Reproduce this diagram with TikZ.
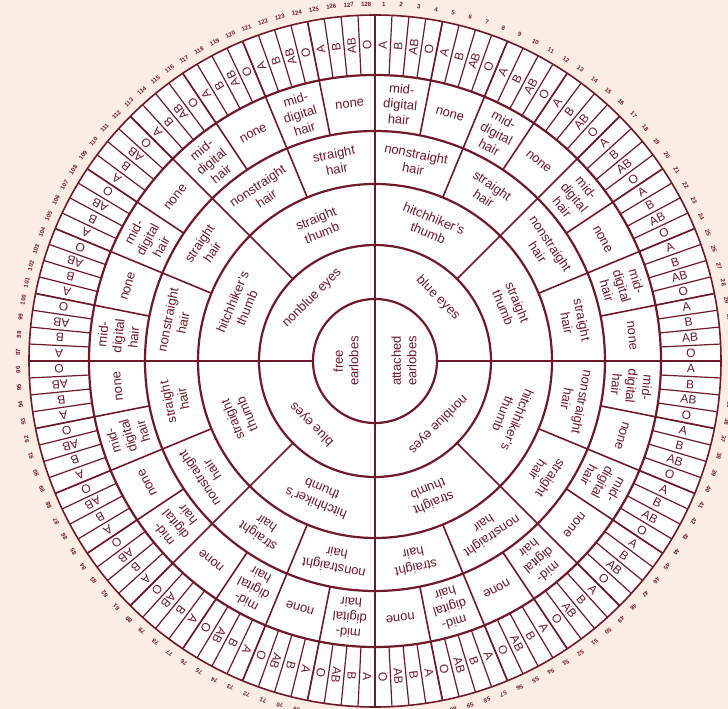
\documentclass[tikz,border=0pt]{standalone}
\usepackage{fontspec}
\setmainfont{Liberation Sans}
\definecolor{wine}{HTML}{6E1A2B}
\definecolor{paper}{HTML}{FBEDE1}

\begin{document}
\begin{tikzpicture}[x=1pt,y=1pt, every node/.style={text=wine,inner sep=0pt,align=center,font=\fontsize{13}{15.5}\selectfont}, ring/.style={draw=wine,line width=2.2pt}, spoke/.style={draw=wine,line width=1.6pt}, fine/.style={draw=wine,line width=1.2pt}, blood/.style={font=\fontsize{12}{14}\selectfont}, num/.style={font=\fontsize{6}{7}\selectfont\bfseries}]
\fill[paper] (-375,-348) rectangle (353,361);
\useasboundingbox (-375,-348) rectangle (353,361);
\fill[white] (0,0) circle (346);
% rings
\foreach \r in {62,116,177,230,286} \draw[ring] (0,0) circle (\r);
\draw[spoke] (0,0) circle (346);
% dividers
\draw[spoke] (90:346) -- (270:346);
\draw[spoke] (180:62) -- (180:346); \draw[spoke] (0:62) -- (0:346);
\foreach \k in {0,...,3} \draw[spoke] (45+90*\k:116) -- (45+90*\k:346);
\foreach \k in {0,...,7} \draw[spoke] (22.5+45*\k:177) -- (22.5+45*\k:346);
\foreach \k in {0,...,15} \draw[spoke] (11.25+22.5*\k:230) -- (11.25+22.5*\k:346);
\foreach \k in {0,...,127} \draw[fine] (2.8125*\k:286) -- (2.8125*\k:346);
% earlobes
\node[rotate=90] (free) at (-29,0) {free\\earlobes};
\node[rotate=90] (att) at (29,0) {attached\\earlobes};
% eyes
\node[rotate=-45] (eye1) at (45:89) {blue eyes};
\node[rotate=-135] (eye2) at (-45:89) {nonblue eyes};
\node[rotate=-225] (eye3) at (-135:89) {blue eyes};
\node[rotate=45] (eye4) at (135:89) {nonblue eyes};
% thumb
\foreach \q in {0,...,3}{
  \foreach \t [count=\i from 0] in {{hitchhiker's\\thumb},{straight\\thumb}}{
    \pgfmathsetmacro{\a}{90-45*(2*\q+\i+0.5)}
    \node[rotate=\a-90] (th\q-\i) at (\a:146.5) {\t};
  }
}
% hair
\foreach \q in {0,...,7}{
  \foreach \t [count=\i from 0] in {{nonstraight\\hair},{straight\\hair}}{
    \pgfmathsetmacro{\a}{90-22.5*(2*\q+\i+0.5)}
    \node[rotate=\a-90] (ha\q-\i) at (\a:203.5) {\t};
  }
}
% mid-digital hair
\foreach \q in {0,...,15}{
  \foreach \t [count=\i from 0] in {{mid-\\digital\\hair},none}{
    \pgfmathsetmacro{\a}{90-11.25*(2*\q+\i+0.5)}
    \node[rotate=\a-90] (md\q-\i) at (\a:258) {\t};
  }
}
% blood types and numbers
\foreach \q in {0,...,31}{
  \foreach \t [count=\i from 0] in {A,B,AB,O}{
    \pgfmathsetmacro{\a}{90-2.8125*(4*\q+\i+0.5)}
    \pgfmathtruncatemacro{\n}{4*\q+\i+1}
    \node[blood,rotate=\a] (bt\n) at (\a:316) {\t};
    \node[num,rotate=\a-90] (n\n) at (\a:357) {\n};
  }
}
\end{tikzpicture}
\end{document}
